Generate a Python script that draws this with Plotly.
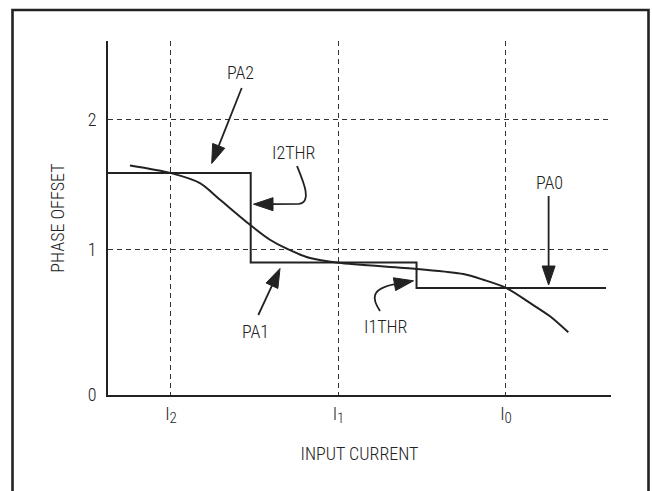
import plotly.graph_objects as go

# ---------------- data (schematic units) ----------------
x_tick_vals = [1, 2, 3]
x_tick_text = ["I<sub><span style='font-size:15px'>2</span></sub>",
               "I<sub><span style='font-size:15px'>1</span></sub>",
               "I<sub><span style='font-size:15px'>0</span></sub>"]

y_floor = -0.123          # where the drawn axis (labelled "0") sits
y_tick_vals = [y_floor, 1, 2]
y_tick_text = ["0", "1", "2"]

# quantised phase-offset steps PA2 / PA1 / PA0
step_x = [0.624, 1.476, 1.476, 2.466, 2.466, 3.597]
step_y = [1.588, 1.588, 0.898, 0.898, 0.702, 0.702]

# ideal (continuous) phase-offset curve
curve_x = [0.755, 1.000, 1.173, 1.293, 1.472, 1.591, 1.691, 1.830,
           2.000, 2.467, 2.745, 2.864, 3.000, 3.143, 3.263, 3.372]
curve_y = [1.645, 1.586, 1.509, 1.381, 1.188, 1.073, 1.004, 0.932,
           0.896, 0.848, 0.809, 0.765, 0.702, 0.586, 0.483, 0.360]

# ---------------- layout constants ----------------
W, H = 652, 491
ML, MR, MT, MB = 108, 41, 41, 96
X_RANGE = [0.624, 3.627]
Y_RANGE = [y_floor, 2.604]
PW, PH = W - ML - MR, H - MT - MB
INK = "#222222"
FONT = "Roboto Condensed, Liberation Sans Narrow, DejaVu Sans Condensed, sans-serif"
FS = 18
FW = 300


def dx(px):
    return X_RANGE[0] + (px - ML) / PW * (X_RANGE[1] - X_RANGE[0])


def dy(py):
    return Y_RANGE[1] - (py - MT) / PH * (Y_RANGE[1] - Y_RANGE[0])


def pt(px, py):
    return f"{dx(px):.4f},{dy(py):.4f}"


def head(tip, base, hw):
    tx, ty = tip
    bx, by = base
    vx, vy = tx - bx, ty - by
    n = (vx * vx + vy * vy) ** 0.5
    nx, ny = -vy / n, vx / n
    return (f"M{pt(tx, ty)} L{pt(bx + nx * hw, by + ny * hw)} "
            f"L{pt(bx - nx * hw, by - ny * hw)} Z")


fig = go.Figure()
fig.add_trace(go.Scatter(x=step_x, y=step_y, mode="lines",
                         line=dict(color=INK, width=2), hoverinfo="skip"))
fig.add_trace(go.Scatter(x=curve_x, y=curve_y, mode="lines",
                         line=dict(color=INK, width=2, shape="spline", smoothing=0.8),
                         hoverinfo="skip"))

shapes = []
# outer frame
shapes.append(dict(type="rect", xref="paper", yref="paper",
                   x0=(12.5 - ML) / PW, x1=(648.5 - ML) / PW,
                   y0=-0.45, y1=(H - MB - 10) / PH,
                   line=dict(color=INK, width=2.6)))

line_style = dict(color=INK, width=1.8)
# straight arrows: (tail, tip)
straight = [((241.7, 88), (211.7, 163.5)),    # PA2
            ((258.3, 315), (280, 268.5)),     # PA1
            ((548.6, 196), (548.6, 285))]     # PA0
for tail, tip in straight:
    tx, ty = tip
    sx, sy = tail
    L = ((tx - sx) ** 2 + (ty - sy) ** 2) ** 0.5
    bx, by = tx - (tx - sx) / L * 19, ty - (ty - sy) / L * 19
    shapes.append(dict(type="path", xref="x", yref="y",
                       path=f"M{pt(sx, sy)} L{pt(bx, by)}", line=line_style))
    shapes.append(dict(type="path", xref="x", yref="y", path=head(tip, (bx, by), 6.5),
                       fillcolor=INK, line=dict(color=INK, width=1)))

# curved arrow I2THR
shapes.append(dict(type="path", xref="x", yref="y",
                   path=f"M{pt(297, 166)} C{pt(304, 183)} {pt(312, 202)} {pt(299, 203.8)} L{pt(272, 204.2)}",
                   line=line_style))
shapes.append(dict(type="path", xref="x", yref="y", path=head((253.5, 204.2), (273, 204.2), 6.5),
                   fillcolor=INK, line=dict(color=INK, width=1)))
# curved arrow I1THR
shapes.append(dict(type="path", xref="x", yref="y",
                   path=f"M{pt(380, 311)} C{pt(372, 299)} {pt(370, 289)} {pt(395, 284.2)}",
                   line=line_style))
shapes.append(dict(type="path", xref="x", yref="y", path=head((413.5, 280.8), (394.5, 284.2), 6.5),
                   fillcolor=INK, line=dict(color=INK, width=1)))

labels = [("PA2", 240, 72.5), ("I2THR", 293.5, 152.5), ("PA1", 255.5, 331.5),
          ("I1THR", 385.5, 326.5), ("PA0", 549.5, 182.5)]
annotations = [dict(text=t, x=dx(px), y=dy(py), xref="x", yref="y", showarrow=False,
                    font=dict(family=FONT, size=FS, color=INK, weight=FW))
               for t, px, py in labels]

axis_common = dict(showgrid=True, gridcolor="#333333", gridwidth=1, griddash="5px,4px",
                   showline=True, linecolor=INK, linewidth=2, ticks="", zeroline=False,
                   tickfont=dict(family=FONT, size=FS, color=INK, weight=FW), fixedrange=True)

fig.update_layout(
    width=W, height=H, autosize=False,
    margin=dict(l=ML, r=MR, t=MT, b=MB, pad=0),
    paper_bgcolor="white", plot_bgcolor="white",
    showlegend=False,
    shapes=shapes, annotations=annotations,
    font=dict(family=FONT, color=INK, weight=FW),
    xaxis=dict(range=X_RANGE, tickvals=x_tick_vals, ticktext=x_tick_text,
               title=dict(text="INPUT CURRENT",
                          font=dict(family=FONT, size=FS, color=INK, weight=FW), standoff=21),
               ticklabelstandoff=1, **axis_common),
    yaxis=dict(range=Y_RANGE, tickvals=y_tick_vals, ticktext=y_tick_text,
               title=dict(text="PHASE OFFSET",
                          font=dict(family=FONT, size=FS, color=INK, weight=FW), standoff=18),
               ticklabelstandoff=6, **axis_common),
)

fig.write_html("out.html", config={"displayModeBar": False},
               post_script="document.body.style.margin='0';")
